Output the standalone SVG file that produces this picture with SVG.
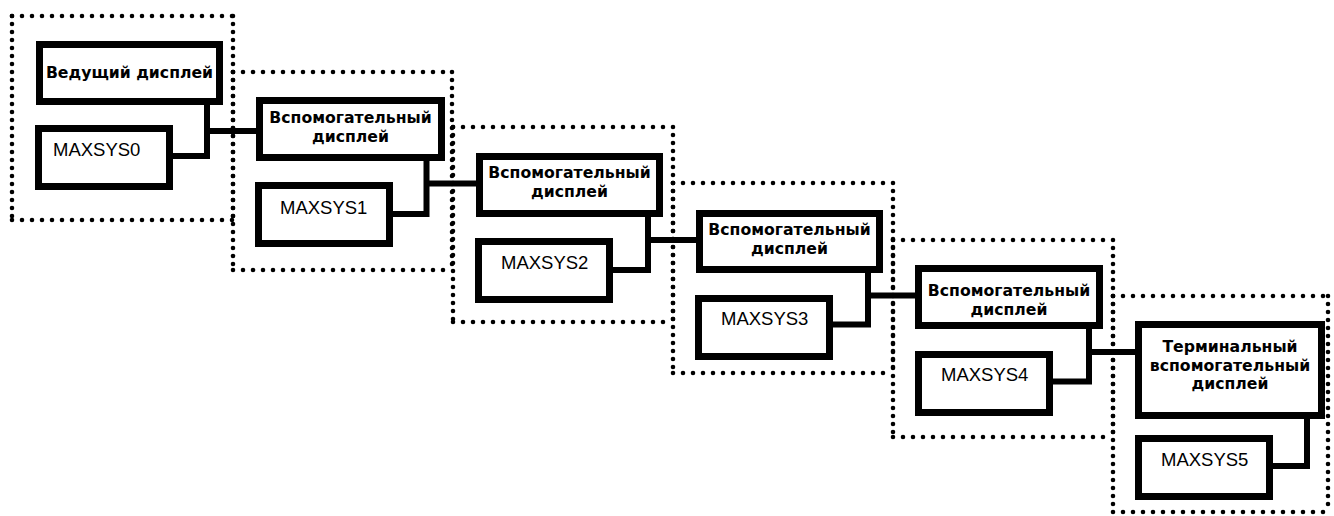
<svg xmlns="http://www.w3.org/2000/svg" width="1334" height="516" viewBox="0 0 1334 516">
<style>
.dh{fill:none;stroke:#000;stroke-width:4.6;stroke-linecap:round;stroke-dasharray:0 10}
.dv{fill:none;stroke:#000;stroke-width:4.6;stroke-linecap:round;stroke-dasharray:0 8}
.box{fill:#fff;stroke:#000;stroke-width:7}
.con{fill:none;stroke:#000;stroke-width:6;stroke-linejoin:miter}
.b{font-family:"DejaVu Sans",Verdana,sans-serif;font-weight:bold;font-size:15.7px;text-anchor:middle;fill:#000}
.r{font-family:"Liberation Sans",Arial,sans-serif;font-size:18.5px;fill:#000}
</style>
<rect width="1334" height="516" fill="#fff"/>
<g id="groups">
<g id="group0"><path class="dh" d="M12,16H233M12,220H233"/><path class="dv" d="M12,16V220M233,16V220"/></g>
<g id="group1"><path class="dh" d="M233,72H452M233,270H452"/><path class="dv" d="M233,72V270M452,72V270"/></g>
<g id="group2"><path class="dh" d="M453,127H673M453,322H673"/><path class="dv" d="M453,127V322M673,127V322"/></g>
<g id="group3"><path class="dh" d="M673,183H893M673,373H893"/><path class="dv" d="M673,183V373M893,183V373"/></g>
<g id="group4"><path class="dh" d="M893,240H1113M893,437H1113"/><path class="dv" d="M893,240V437M1113,240V437"/></g>
<g id="group5"><path class="dh" d="M1113,296H1328M1113,512H1328"/><path class="dv" d="M1113,296V512M1328,296V512"/></g>
</g>
<g id="connectors">
<path class="con" d="M173,156H207V105M207,131H256"/>
<path class="con" d="M393,214H426.5V161M426.5,183.5H476"/>
<path class="con" d="M613,270H648V217M648,240H696"/>
<path class="con" d="M833,324.5H868V273M868,295.5H915"/>
<path class="con" d="M1053,381.5H1089V329M1089,352H1136"/>
<path class="con" d="M1273,466H1307V419"/>
</g>
<g id="master"><rect class="box" x="39.5" y="44.5" width="180" height="57"/><text class="b" x="129.5" y="77.5">Ведущий дисплей</text></g>
<g id="sys0"><rect class="box" x="38.5" y="128.5" width="131" height="58"/><text class="r" x="53" y="155.5">MAXSYS0</text></g>
<g id="aux1"><rect class="box" x="259.5" y="100.5" width="182" height="57"/><text class="b" x="350.5" y="122.5">Вспомогательный</text><text class="b" x="350.5" y="142">дисплей</text></g>
<g id="sys1"><rect class="box" x="258.5" y="185.5" width="131" height="58"/><text class="r" x="280" y="213.5">MAXSYS1</text></g>
<g id="aux2"><rect class="box" x="479.5" y="156.5" width="180" height="57"/><text class="b" x="569.5" y="178">Вспомогательный</text><text class="b" x="569.5" y="197">дисплей</text></g>
<g id="sys2"><rect class="box" x="478.5" y="241.5" width="131" height="58"/><text class="r" x="501" y="268.5">MAXSYS2</text></g>
<g id="aux3"><rect class="box" x="699.5" y="213.5" width="180" height="56"/><text class="b" x="789.5" y="235">Вспомогательный</text><text class="b" x="789.5" y="253.5">дисплей</text></g>
<g id="sys3"><rect class="box" x="698.5" y="298.5" width="131" height="58"/><text class="r" x="721" y="324.5">MAXSYS3</text></g>
<g id="aux4"><rect class="box" x="918.5" y="268.5" width="181" height="57"/><text class="b" x="1009" y="296">Вспомогательный</text><text class="b" x="1009" y="315">дисплей</text></g>
<g id="sys4"><rect class="box" x="918.5" y="354.5" width="131" height="58"/><text class="r" x="941" y="380.5">MAXSYS4</text></g>
<g id="terminal"><rect class="box" x="1138.5" y="324.5" width="183" height="91"/><text class="b" x="1230" y="351.5">Терминальный</text><text class="b" x="1230" y="370.5">вспомогательный</text><text class="b" x="1230" y="389">дисплей</text></g>
<g id="sys5"><rect class="box" x="1138.5" y="438.5" width="131" height="58"/><text class="r" x="1161" y="465.5">MAXSYS5</text></g>
</svg>
